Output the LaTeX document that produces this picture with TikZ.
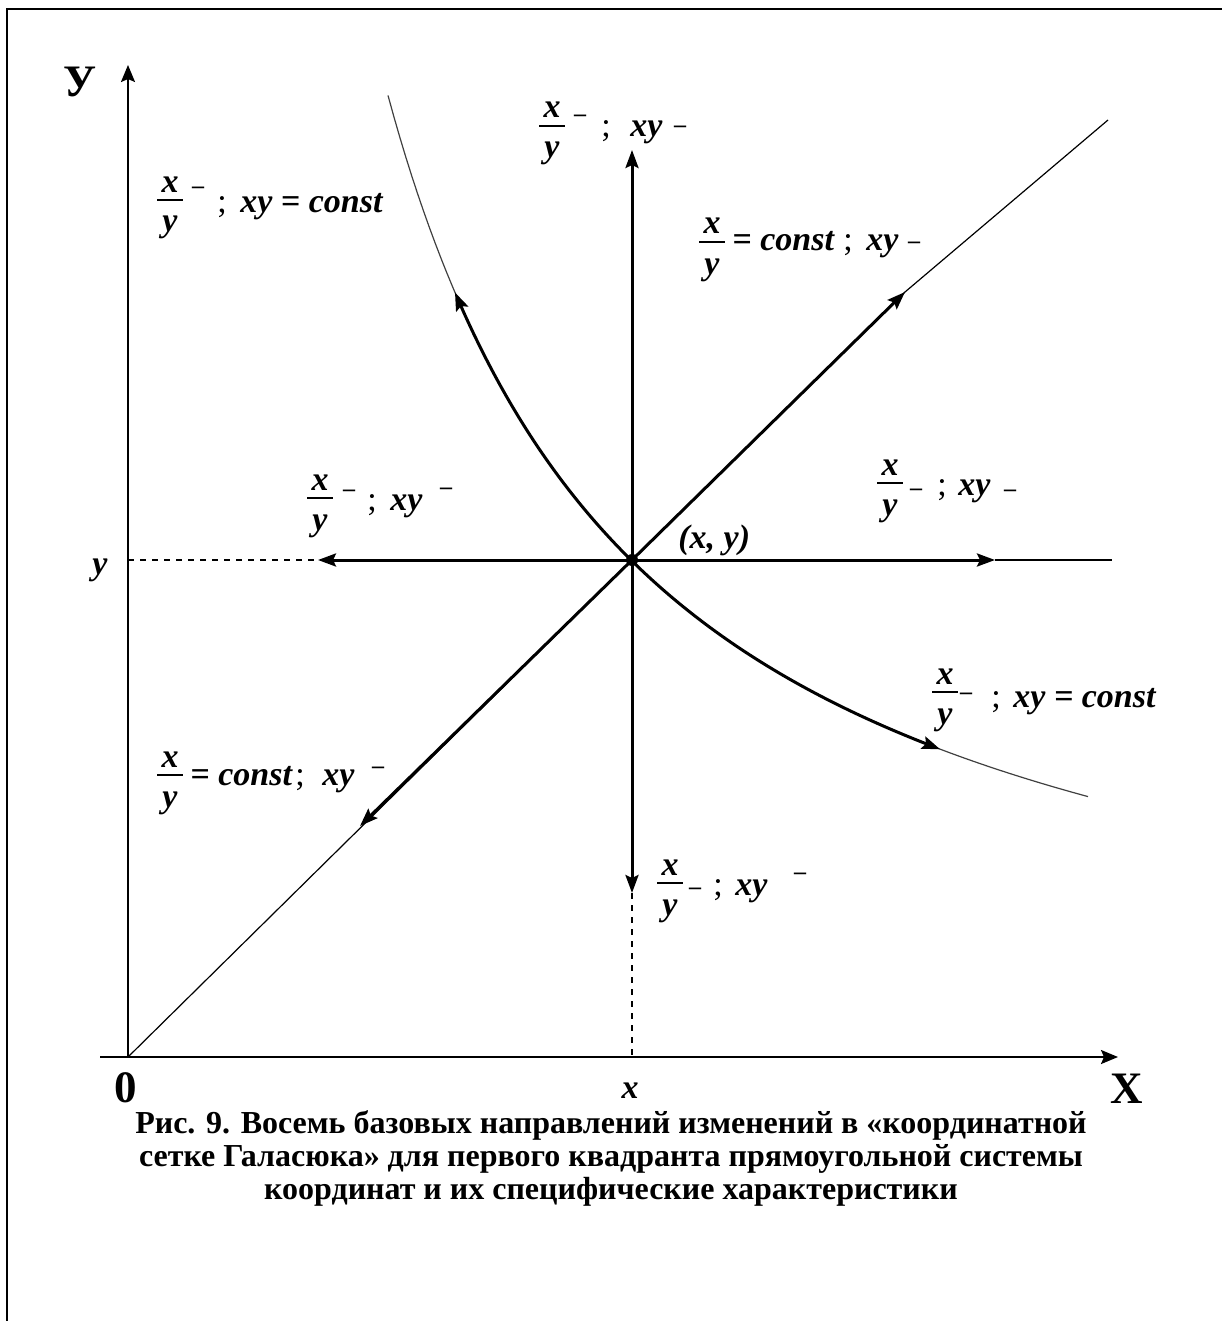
\documentclass[tikz,border=0pt]{standalone}
\usepackage{fontspec}
\setmainfont{Liberation Serif}
\usetikzlibrary{arrows.meta}
\tikzset{
  bi/.style={font=\bfseries\itshape\fontsize{17}{17}\selectfont, inner sep=0pt, anchor=base},
  biw/.style={bi, anchor=base west},
  semi/.style={font=\fontsize{17}{17}\selectfont, inner sep=0pt, anchor=base},
  dsh/.style={font=\bfseries\fontsize{12}{12}\selectfont, inner sep=0pt, anchor=base},
  big/.style={font=\bfseries\fontsize{22.5}{22.5}\selectfont, inner sep=0pt, anchor=base},
  capt/.style={font=\bfseries\fontsize{16}{16}\selectfont, inner sep=0pt, anchor=base},
  fbar/.style={line width=0.9pt},
  axis/.style={line width=1pt, -{Stealth[length=8.5pt,width=7pt,inset=1.5pt]}},
  thickarr/.style={line width=1.5pt, -{Stealth[length=9pt,width=6.5pt,inset=1.5pt]}},
  thin/.style={line width=0.6pt},
  hyp/.style={line width=0.6pt, black!75},
  dsl/.style={line width=0.7pt, dash pattern=on 3pt off 3pt},
}
\newcommand\fxy[3]{%
  \node[bi] (#1n) at (#2,#3-8) {x};
  \node[bi] (#1d) at (#2,#3+32) {y};
  \coordinate (#1L) at (#2-13,#3);
  \coordinate (#1R) at (#2+13,#3);
  \draw[fbar] (#1L) -- (#1R);
}
\begin{document}
\begin{tikzpicture}[x=0.5pt,y=-0.5pt]
\useasboundingbox (0,0) rectangle (1222,1321);
% frame
\coordinate (F1) at (7,1321);
\coordinate (F2) at (7,9);
\coordinate (F3) at (1222,9);
\draw[line width=1pt] (F1) -- (F2) -- (F3);
% key points
\coordinate (O) at (128,1057);
\coordinate (P) at (632,560);
\coordinate (Xs) at (100,1057);
\coordinate (Xe) at (1118,1057);
\coordinate (Ye) at (128,65);
% axes
\draw[axis] (Xs) -- (Xe);
\draw[axis] (O) -- (Ye);
% horizontal
\coordinate (Hy) at (128,560);
\coordinate (Hl) at (318,560);
\coordinate (Hr) at (995,560);
\coordinate (He) at (1112,560);
\draw[dsl] (Hy) -- (Hl);
\draw[thickarr] (P) -- (Hl);
\draw[thickarr] (P) -- (Hr);
\draw[thin] (Hr) -- (He);
% vertical
\coordinate (Vt) at (632,150);
\coordinate (Vb) at (632,893);
\coordinate (Vx) at (632,1057);
\draw[thickarr] (P) -- (Vt);
\draw[thickarr] (P) -- (Vb);
\draw[dsl] (Vb) -- (Vx);
% diagonal
\coordinate (Du) at (905,292);
\coordinate (Dd) at (360,826);
\coordinate (De) at (1108,120);
\draw[thin] (O) -- (P) -- (Du) -- (De);
\draw[thickarr] (P) -- (Du);
\draw[thickarr] (P) -- (Dd);
% hyperbola xy = const
\draw[hyp] plot[domain=2.6:9.6, samples=120] ({128+100*\x},{1057-2500/\x});
\draw[line width=1.5pt, {Stealth[length=9pt,width=6.5pt,inset=1.5pt]}-] plot[domain=3.27:5.04, samples=60] ({128+100*\x},{1057-2500/\x});
\draw[line width=1.5pt, -{Stealth[length=9pt,width=6.5pt,inset=1.5pt]}] plot[domain=5.04:8.12, samples=60] ({128+100*\x},{1057-2500/\x});
\fill (P) circle[radius=3pt];
\node[biw] (pt) at (678,548) {(x, y)};
% axis labels
\node[big] (lY) at (80,97) {У};
\node[big] (lX) at (1127,1103) {X};
\node[big] (l0) at (126,1102) {0};
\node[bi] (lx) at (630,1098) {x};
\node[bi] (ly) at (100,574) {y};
% label 1 (top left)
\fxy{a}{170}{200}
\node[dsh] (a1) at (198,194) {–};
\node[semi] (a2) at (222,213) {;};
\node[biw] (a3) at (240,213) {xy = const};
% label 2 (top)
\fxy{b}{552}{126}
\node[dsh] (b1) at (580,122) {–};
\node[semi] (b2) at (606,137) {;};
\node[biw] (b3) at (630,137) {xy};
\node[dsh] (b4) at (680,133) {–};
% label 3 (upper right)
\fxy{c}{712}{242}
\node[biw] (c1) at (732,250) {= const};
\node[semi] (c2) at (848,250) {;};
\node[biw] (c3) at (866,250) {xy};
\node[dsh] (c4) at (914,249) {–};
% label 4 (left)
\fxy{d}{320}{498}
\node[dsh] (d1) at (349,496) {–};
\node[semi] (d2) at (372,510) {;};
\node[biw] (d3) at (390,510) {xy};
\node[dsh] (d4) at (446,494) {–};
% label 5 (right)
\fxy{e}{890}{483}
\node[dsh] (e1) at (916,495) {–};
\node[semi] (e2) at (942,495) {;};
\node[biw] (e3) at (958,495) {xy};
\node[dsh] (e4) at (1010,496) {–};
% label 6 (lower right)
\fxy{f}{945}{692}
\node[dsh] (f1) at (966,699) {–};
\node[semi] (f2) at (996,707) {;};
\node[biw] (f3) at (1013,707) {xy = const};
% label 7 (lower left)
\fxy{g}{170}{775}
\node[biw] (g1) at (190,785) {= const};
\node[semi] (g2) at (300,785) {;};
\node[biw] (g3) at (322,785) {xy};
\node[dsh] (g4) at (378,773) {–};
% label 8 (bottom)
\fxy{h}{670}{883}
\node[dsh] (h1) at (695,894) {–};
\node[semi] (h2) at (718,895) {;};
\node[biw] (h3) at (735,895) {xy};
\node[dsh] (h4) at (800,879) {–};
% caption
\node[capt] (cap1) at (611,1133) {Рис. 9. Восемь базовых направлений изменений в «координатной};
\node[capt] (cap2) at (611,1166) {сетке Галасюка» для первого квадранта прямоугольной системы};
\node[capt] (cap3) at (611,1199) {координат и их специфические характеристики};
\end{tikzpicture}
\end{document}
